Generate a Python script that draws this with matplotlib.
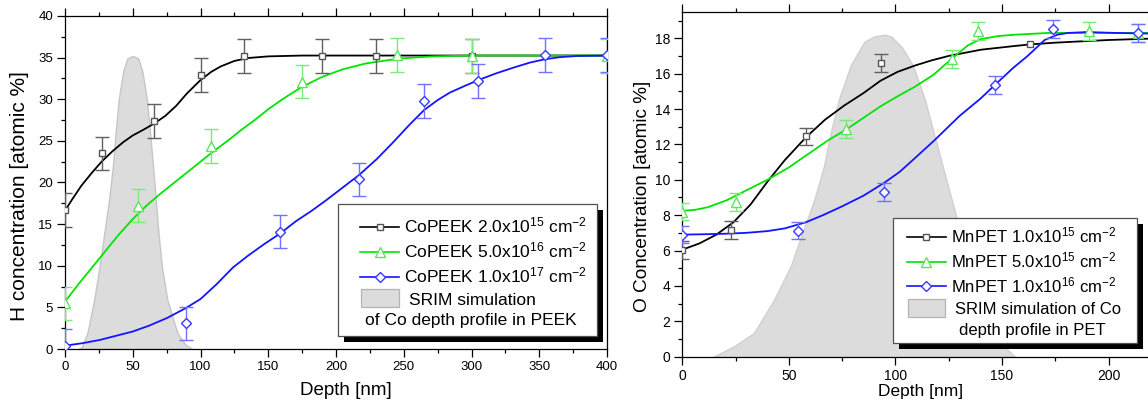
import numpy as np
import matplotlib
matplotlib.use("Agg")
import matplotlib.pyplot as plt
from matplotlib.patches import Rectangle
from matplotlib.lines import Line2D
from matplotlib.ticker import MultipleLocator

plt.rcParams['font.family'] = ['Liberation Sans', 'DejaVu Sans']
plt.rcParams['mathtext.fontset'] = 'custom'
plt.rcParams['mathtext.rm'] = 'Liberation Sans'
plt.rcParams['mathtext.it'] = 'Liberation Sans:italic'
plt.rcParams['mathtext.bf'] = 'Liberation Sans:bold'

W, H = 1148, 401

# ---------------- left panel: H in CoPEEK ----------------
peek_labels = ['CoPEEK 2.0x10$^{15}$ cm$^{-2}$',
               'CoPEEK 5.0x10$^{16}$ cm$^{-2}$',
               'CoPEEK 1.0x10$^{17}$ cm$^{-2}$']
peek_srim_label = ['SRIM simulation', 'of Co depth profile in PEEK']

peek_sq_x = [0, 27.5, 66, 100, 132, 190, 229.5, 300]
peek_sq_y = [16.7, 23.5, 27.4, 32.9, 35.2, 35.2, 35.2, 35.2]
peek_tri_x = [0, 54, 108, 175, 245, 300, 400]
peek_tri_y = [5.5, 17.2, 24.4, 32.1, 35.3, 35.2, 35.2]
peek_dia_x = [0, 89, 159, 217, 265, 305, 354, 400]
peek_dia_y = [0.4, 3.1, 14.1, 20.4, 29.8, 32.2, 35.3, 35.3]
peek_err = 2.0

peek_fit1_x = [0, 5, 12, 20, 27, 35, 43, 50, 58, 66, 74, 82, 90, 100, 108, 115, 125, 135, 150, 175, 400]
peek_fit1_y = [16.6, 17.9, 19.6, 21.2, 22.5, 23.75, 24.85, 25.65, 26.35, 27.1, 28.0, 29.2, 30.7,
               32.3, 33.3, 33.95, 34.6, 34.95, 35.15, 35.25, 35.25]
peek_fit2_x = [0, 10, 20, 30, 40, 50, 60, 70, 80, 90, 100, 110, 120, 130, 140, 150, 160, 175,
               190, 205, 222, 247, 272, 300, 400]
peek_fit2_y = [5.7, 7.8, 9.8, 11.8, 13.8, 15.6, 17.2, 18.6, 19.9, 21.2, 22.5, 23.8, 25.0, 26.3,
               27.5, 28.8, 29.95, 31.5, 32.7, 33.6, 34.3, 34.9, 35.15, 35.25, 35.25]
peek_fit3_x = [0, 13, 26, 38, 50, 62, 75, 89, 100, 112, 124, 135, 147, 159, 170, 182, 193, 205,
               217, 230, 242, 254, 265, 275, 284, 295, 305, 318, 331, 343, 354, 365, 378, 400]
peek_fit3_y = [0.4, 0.7, 1.1, 1.6, 2.1, 2.8, 3.7, 4.9, 6.0, 7.8, 9.8, 11.2, 12.6, 13.9, 15.3,
               16.6, 17.9, 19.4, 20.9, 22.8, 24.8, 26.9, 28.7, 29.9, 30.8, 31.6, 32.3, 33.1,
               33.8, 34.4, 34.8, 35.05, 35.2, 35.25]

peek_srim_x = [10, 12.3, 16.5, 21.5, 25.5, 29, 32.5, 35.3, 37.3, 39.6, 43, 46, 50,
               54, 57, 60.5, 62.8, 65, 67, 69, 71.5, 75.5, 83, 89, 94]
peek_srim_y = [0, 0.2, 1.9, 5.9, 9.9, 13.9, 17.9, 21.9, 25.9, 29.9, 33.4, 34.9, 35.2,
               34.9, 33.4, 29.9, 25.9, 21.9, 17.9, 13.9, 9.9, 5.9, 1.9, 0.5, 0]

# ---------------- right panel: O in MnPET ----------------
pet_labels = ['MnPET 1.0x10$^{15}$ cm$^{-2}$',
              'MnPET 5.0x10$^{15}$ cm$^{-2}$',
              'MnPET 1.0x10$^{16}$ cm$^{-2}$']
pet_srim_label = ['SRIM simulation of Co', 'depth profile in PET']

pet_sq_x = [0, 23, 58, 93, 163]
pet_sq_y = [6.05, 7.15, 12.45, 16.6, 17.65]
pet_sq_err = [0.5, 0.5, 0.5, 0.5, np.nan]
pet_tri_x = [0, 25, 76.7, 126.4, 138.7, 190.7, 214]
pet_tri_y = [8.2, 8.74, 12.87, 16.84, 18.39, 18.4, 18.3]
pet_dia_x = [0, 54.4, 94.4, 146.9, 174, 214]
pet_dia_y = [6.9, 7.13, 9.31, 15.36, 18.54, 18.3]
pet_err = 0.5

pet_fit1_x = [0, 8, 16, 24, 32, 40, 48, 58, 67, 76, 85, 93, 101, 109, 117, 125, 140, 155, 163,
              175, 188, 200, 225]
pet_fit1_y = [6.05, 6.4, 6.9, 7.6, 8.6, 9.9, 11.1, 12.4, 13.4, 14.2, 14.9, 15.6, 16.1, 16.45,
              16.75, 17.0, 17.35, 17.55, 17.65, 17.75, 17.83, 17.9, 18.0]
pet_fit2_x = [0, 6, 12, 21, 30, 40, 50, 59, 68, 77, 85, 93, 100, 109, 118, 126, 134, 140, 148,
              156, 172, 225]
pet_fit2_y = [8.25, 8.3, 8.45, 8.85, 9.4, 10.0, 10.7, 11.45, 12.2, 12.85, 13.5, 14.15, 14.65,
              15.25, 15.95, 16.8, 17.6, 17.95, 18.12, 18.2, 18.3, 18.3]
pet_fit3_x = [0, 10, 20, 30, 40, 48, 58, 66, 75, 85, 95, 102, 108, 118, 130, 140, 147, 155, 162,
              170, 176, 181, 190, 203, 225]
pet_fit3_y = [6.9, 6.92, 6.95, 7.0, 7.1, 7.25, 7.6, 8.0, 8.5, 9.1, 9.85, 10.45, 11.1, 12.2, 13.6,
              14.6, 15.4, 16.3, 17.0, 17.9, 18.2, 18.3, 18.35, 18.3, 18.25]

pet_srim_x = [14.6, 24, 33.5, 43, 50.8, 56.3, 62, 66.5, 69.7, 73.6, 79.1, 85.4, 90, 95, 98, 103,
              108.2, 113.7, 120, 126.3, 132, 138, 144, 150, 156]
pet_srim_y = [0, 0.57, 1.33, 3.2, 5.1, 7.0, 8.9, 10.8, 12.7, 14.6, 16.5, 17.8, 18.1, 18.2, 18.1,
              17.5, 16.46, 14.57, 11.73, 8.9, 6.4, 4.0, 2.0, 0.7, 0]

c_black, c_green, c_blue = '#000000', '#00e400', '#1414ff'
e_black, e_green, e_blue = '#606060', '#74ee74', '#7272ff'
m_black, m_green, m_blue = '#555555', '#5ee45e', '#3a3aff'


def fig_rect(fig, x0, y0, x1, y1, **kw):
    # rectangle given in figure pixels, measured from the top left
    r = Rectangle((x0 / W, 1 - y1 / H), (x1 - x0) / W, (y1 - y0) / H,
                  transform=fig.transFigure, **kw)
    fig.add_artist(r)


def draw_key(fig, box, rows, hx, tx, patch, srim_lines, labels, fs):
    x0, y0, x1, y1 = box
    fig_rect(fig, x0 + 6, y0 + 6, x1 + 6, y1 + 6, facecolor='black', edgecolor='none', zorder=20)
    fig_rect(fig, x0, y0, x1, y1, facecolor='white', edgecolor='#505050', lw=0.9, zorder=21)
    styles = [(c_black, 's', m_black, 5), (c_green, '^', m_green, 6.5), (c_blue, 'D', m_blue, 5.5)]
    for y, (lc, mk, mc, ms), lab in zip(rows, styles, labels):
        yy = 1 - y / H
        fig.add_artist(Line2D([hx[0] / W, hx[1] / W], [yy, yy], color=lc, lw=1.2,
                              transform=fig.transFigure, zorder=22))
        fig.add_artist(Line2D([(hx[0] + hx[1]) / 2 / W], [yy], marker=mk, ms=ms, mfc='white',
                              mec=mc, mew=1.0, transform=fig.transFigure, zorder=23))
        fig.text(tx / W, 1 - (y + 6) / H, lab, fontsize=fs, va='baseline', ha='left', zorder=23)
    fig_rect(fig, *patch, facecolor='#dcdcdc', edgecolor='#b4b4b4', lw=0.9, zorder=22)
    for (sx, sy, ha), text in zip(srim_lines, labels[3:]):
        fig.text(sx / W, 1 - (sy + 6) / H, text, fontsize=fs, va='baseline', ha=ha, zorder=23)


def plot_series(ax, px, py, err, fx, fy, lc, ec, mc, marker, ms):
    ax.plot(fx, fy, color=lc, lw=1.3, zorder=3)
    ax.errorbar(px, py, yerr=err, fmt=marker, ms=ms, mfc='white', mec=mc, mew=1.0,
                ecolor=ec, elinewidth=1.0, capsize=5, capthick=1.0, zorder=4)


def style_axes(ax, xmaj, xmin, ymaj, ymin, fs):
    ax.xaxis.set_major_locator(MultipleLocator(xmaj))
    ax.xaxis.set_minor_locator(MultipleLocator(xmin))
    ax.yaxis.set_major_locator(MultipleLocator(ymaj))
    ax.yaxis.set_minor_locator(MultipleLocator(ymin))
    ax.tick_params(which='both', direction='out', top=True, right=False, labeltop=False,
                   width=0.9, labelsize=fs)
    ax.tick_params(which='major', length=5.5)
    ax.tick_params(which='minor', length=3.2)
    ax.tick_params(axis='y', pad=3)
    ax.tick_params(axis='x', pad=3.5)
    for s in ax.spines.values():
        s.set_linewidth(0.9)


fig = plt.figure(figsize=(W / 100, H / 100), dpi=100)

# left panel
ax1 = fig.add_axes([65 / W, 1 - 349 / H, 542 / W, 333 / H])
ax1.fill_between(peek_srim_x, peek_srim_y, 0, facecolor='#dcdcdc', edgecolor='#c6c6c6', lw=1.0, zorder=1)
plot_series(ax1, peek_sq_x, peek_sq_y, peek_err, peek_fit1_x, peek_fit1_y, c_black, e_black, m_black, 's', 5)
plot_series(ax1, peek_tri_x, peek_tri_y, peek_err, peek_fit2_x, peek_fit2_y, c_green, e_green, m_green, '^', 6.5)
plot_series(ax1, peek_dia_x, peek_dia_y, peek_err, peek_fit3_x, peek_fit3_y, c_blue, e_blue, m_blue, 'D', 5.5)
ax1.set_xlim(0, 400)
ax1.set_ylim(0, 40)
style_axes(ax1, 50, 25, 5, 2.5, 9.5)
ax1.set_xlabel('Depth [nm]', fontsize=13.5)
ax1.set_ylabel('H concentration [atomic %]', fontsize=15)
ax1.xaxis.set_label_coords(0.518, -0.1)
ax1.yaxis.set_label_coords(-0.066, 0.459)

# right panel (cut by the right edge of the figure)
ax2 = fig.add_axes([682.3 / W, 1 - 356.7 / H, 477.7 / W, 345 / H])
ax2.fill_between(pet_srim_x, pet_srim_y, 0, facecolor='#dcdcdc', edgecolor='#d0d0d0', lw=1.0, zorder=1)
plot_series(ax2, pet_sq_x, pet_sq_y, pet_sq_err, pet_fit1_x, pet_fit1_y, c_black, e_black, m_black, 's', 5)
plot_series(ax2, pet_tri_x, pet_tri_y, pet_err, pet_fit2_x, pet_fit2_y, c_green, e_green, m_green, '^', 6.5)
plot_series(ax2, pet_dia_x, pet_dia_y, pet_err, pet_fit3_x, pet_fit3_y, c_blue, e_blue, m_blue, 'D', 5.5)
ax2.set_xlim(0, 224.1)
ax2.set_ylim(0, 19.5)
style_axes(ax2, 50, 25, 2, 1, 10)
ax2.spines['right'].set_visible(False)
ax2.set_xlabel('Depth [nm]', fontsize=12.5)
ax2.set_ylabel('O Concentration [atomic %]', fontsize=13.7)
ax2.xaxis.set_label_coords(0.4997, -0.078)
ax2.yaxis.set_label_coords(-0.066, 0.464)

# keys, drawn by hand to get the centred two-line SRIM entry
draw_key(fig, (338, 204, 597, 336), [226.7, 251.7, 276.7], (360, 399), 404,
         (361, 289, 399, 307), [(472, 299, 'center'), (471, 319.3, 'center')],
         peek_labels + peek_srim_label, 12.5)
draw_key(fig, (893.3, 218.3, 1136.7, 343.3), [236.7, 261.7, 286], (906.7, 945.7), 950.7,
         (908.3, 299, 945, 317), [(955, 308.3, 'left'), (959, 329.3, 'left')],
         pet_labels + pet_srim_label, 12)

fig.savefig('out.png', dpi=100)
